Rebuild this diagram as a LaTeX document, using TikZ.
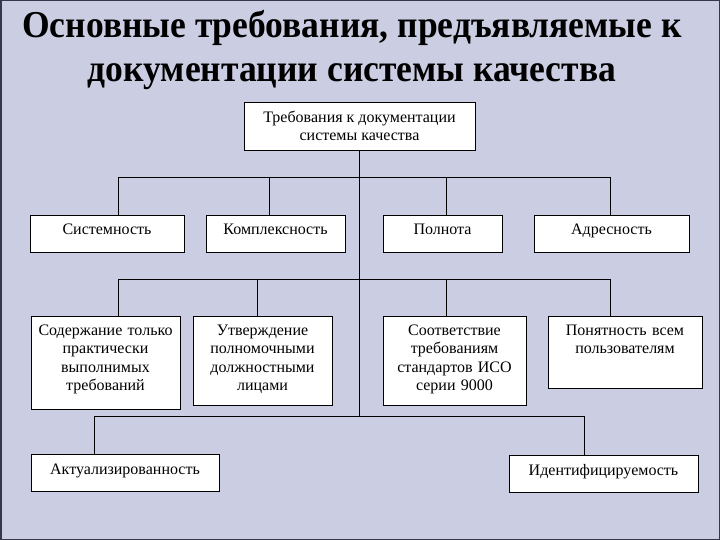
\documentclass[tikz,border=0pt]{standalone}
\usepackage{fontspec}
\usepackage{graphicx}
\setmainfont{Liberation Serif}
\usetikzlibrary{positioning}
\definecolor{bglav}{RGB}{203,205,226}
\definecolor{framegray}{RGB}{55,55,75}

\begin{document}
\begin{tikzpicture}[x=1pt,y=-1pt,line width=.9pt,
  req/.style={draw=black, fill=white, inner sep=0pt, align=center,
    font=\fontsize{16}{18.5}\selectfont},
  reqline/.style={req, minimum height=37pt, text height=9pt, text depth=6pt},
  reqtall/.style={req, anchor=north, text height=19pt}]

  % Background
\fill[bglav] (0,0) rectangle (720,540);
\draw[framegray,line width=1.5pt] (.75,.75) rectangle (719.25,539.25);
\useasboundingbox (0,0) rectangle (720,540);

% Title
\node[font=\fontsize{38}{44}\selectfont\bfseries, inner sep=0pt, anchor=base] (title)
    at (352,38) {\scalebox{0.935}[1]{\begin{tabular}[t]{@{}c@{}}Основные требования, предъявляемые к\\ документации системы качества\end{tabular}}};

% Top box
\node[req, minimum width=231pt, minimum height=48pt] (root) at (359.5,126) {Требования к документации\\ системы качества};

% First row
\node[reqline, minimum width=154pt] (sys) at (107,233.5) {Системность};
\node[reqline, minimum width=139pt] (comp) at (275.5,233.5) {Комплексность};
\node[reqline, minimum width=119pt] (full) at (442.5,233.5) {Полнота};
\node[reqline, minimum width=155pt] (addr) at (611.5,233.5) {Адресность};

% Second row (text from the top)
\node[reqtall, text width=149pt, text depth=74pt] (real) at (105.5,316) {Содержание только\\ практически\\ выполнимых\\ требований};
\node[reqtall, text width=139pt, text depth=70pt] (appr) at (262.5,316) {Утверждение\\ полномочными\\ должностными\\ лицами};
\node[reqtall, text width=143pt, text depth=70pt] (iso) at (454.5,316) {Соответствие\\ требованиям\\ стандартов ИСО\\ серии 9000};
\node[reqtall, text width=154pt, text depth=53pt] (clear) at (625,316) {Понятность всем\\ пользователям};

% Third row
\node[reqline, minimum width=188pt] (actual) at (125,472.5) {Актуализированность};
\node[reqline, minimum width=189pt] (ident) at (603.5,473.5) {Идентифицируемость};

% Trunk and buses
\coordinate (bus1) at (359,177);
\coordinate (bus2) at (359,279);
\coordinate (bus3) at (359,416);
\draw (root.south -| bus1) -- (bus3);
\draw (118,177) -- (610,177);
\draw (118,279) -- (610,279);
\draw (94,416) -- (584,416);

% Drops
\foreach \x/\n in {118/sys, 269/comp, 446/full, 610/addr}
  \draw (\x,177) -- (\x,177 |- \n.north);
\foreach \x/\n in {118/real, 257/appr, 446/iso, 610/clear}
  \draw (\x,279) -- (\x,279 |- \n.north);
\foreach \x/\n in {94/actual, 584/ident}
  \draw (\x,416) -- (\x,416 |- \n.north);

\end{tikzpicture}
\end{document}
